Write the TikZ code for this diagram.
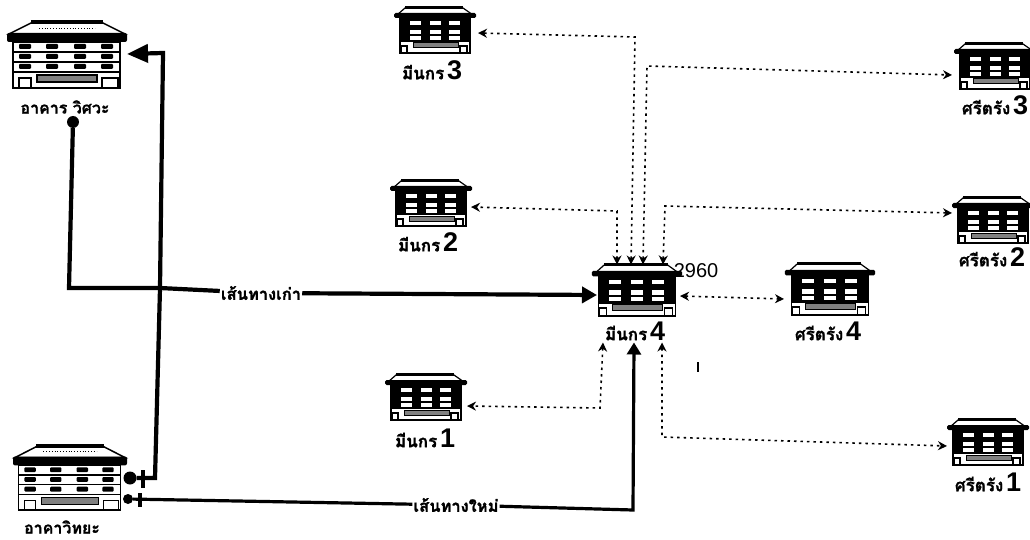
\documentclass[tikz,border=0pt]{standalone}
\usepackage{fontspec}
\setmainfont{Liberation Sans}
\newfontfamily\thaifont[Script=Thai,BoldFeatures={FakeBold=1.2}]{Loma}
\usetikzlibrary{arrows.meta}

\newcommand{\placename}[2]{{\thaifont\bfseries\fontsize{17}{17}\selectfont #1}~{\bfseries\fontsize{27}{27}\selectfont #2}}

\tikzset{
  housebox/.style={inner sep=0pt,outer sep=0pt,minimum width=82pt,minimum height=47pt},
  houselabel/.style={inner sep=0pt,font=\thaifont\bfseries\fontsize{16}{16}\selectfont},
  routelabel/.style={inner sep=1pt,font=\thaifont\bfseries\fontsize{16.5}{16.5}\selectfont},
  oldroute/.style={draw,line width=4.2pt},
  newroute/.style={draw,line width=3.2pt},
  dotroute/.style={draw,line width=1.6pt,dash pattern=on 2.5pt off 4pt,{Stealth[length=9pt,width=9pt]}-{Stealth[length=9pt,width=9pt]}},
  enddot/.style={circle,fill=black,inner sep=0pt},
  endbar/.style={fill=black,inner sep=0pt,minimum width=3.5pt},
  pics/bighouse/.style={code={
    \draw[fill=white,line width=1.3pt] (-54,-12) rectangle (53,34);
    \draw[fill=white,line width=1.5pt] (-36,-31) -- (36,-31) -- (58,-20) -- (-58,-20) -- cycle;
    \draw[line width=.8pt,dotted] (-28,-26) -- (28,-26);
    \fill (-36,-34) rectangle (36,-30);
    \fill[rounded corners=2pt] (-60,-21) rectangle (60,-12);
    \foreach \r in {-7,3,13}
      \foreach \c in {-42,-15,13,40}
        \fill[rounded corners=1pt] (\c-6,\r-3) rectangle (\c+6,\r+2);
    \foreach \r in {-2,8,18}
      \draw[line width=1.2pt] (-54,\r) -- (53,\r);
    \draw[fill=gray,line width=1.2pt] (-30,21) rectangle (30,28);
    \draw[line width=1.3pt] (-48,24) rectangle (-36,34);
    \draw[line width=1.3pt] (35,24) rectangle (51,34);
  }},
  pics/smallhouse/.style={code={
    \draw[fill=white,line width=1.2pt] (-35,-13) rectangle (35,23);
    \draw[fill=white,line width=1.2pt] (-30,-22) -- (28,-22) -- (38,-15) -- (-38,-15) -- cycle;
    \fill (-30,-24) rectangle (28,-21);
    \fill[rounded corners=1.5pt] (-41,-17) rectangle (41,-12);
    \fill (-35,-12) rectangle (35,12);
    \foreach \c in {-20,0,19}
      \foreach \r in {-8,1,7}
        \fill[white] (\c-5.5,\r-1) rectangle (\c+5.5,\r+3);
    \draw[fill=gray,line width=1pt] (-22,13) rectangle (23,18);
    \draw[line width=1.2pt] (-34,16) rectangle (-28,23);
    \draw[line width=1.2pt] (25,16) rectangle (32,23);
  }},
}

\begin{document}
\begin{tikzpicture}[x=1pt,y=-1pt]
  \useasboundingbox (0,0) rectangle (1030,540);

  % buildings
  \begin{scope}[every node/.style={housebox}]
    \node (mn1) at (426,397) {};
    \node (mn2) at (431,203) {};
    \node (mn3) at (435,30) {};
    \node[minimum width=90pt,minimum height=53pt] (mn4) at (637,290) {};
    \node[minimum width=90pt,minimum height=53pt] (st4) at (830,289) {};
    \node (st1) at (988,442) {};
    \node (st2) at (993,220) {};
    \node (st3) at (995,66) {};
    \node[minimum width=120pt,minimum height=68pt] (wit) at (67,54) {};
    \node[minimum width=114pt,minimum height=66pt] (vit) at (70,477) {};
  \end{scope}

  \foreach \h in {mn1,mn2,mn3,st1,st2,st3}
    \pic at (\h) {smallhouse};
  \pic[xscale=1.1,yscale=1.13] at (mn4) {smallhouse};
  \pic[xscale=1.1,yscale=1.13] at (st4) {smallhouse};
  \pic at (wit) {bighouse};
  \pic[xscale=.95,yscale=.97] at (vit) {bighouse};

  % names under the buildings
  \begin{scope}[every node/.style={inner sep=0pt}]
    \node (mn1name) at (425,438) {\placename{มีนกร}{1}};
    \node (mn2name) at (428,242) {\placename{มีนกร}{2}};
    \node (mn3name) at (432,70) {\placename{มีนกร}{3}};
    \node (mn4name) at (635,331) {\placename{มีนกร}{4}};
    \node (st1name) at (988,482) {\placename{ศรีตรัง}{1}};
    \node (st2name) at (992,257) {\placename{ศรีตรัง}{2}};
    \node (st3name) at (995,105) {\placename{ศรีตรัง}{3}};
    \node (st4name) at (828,331) {\placename{ศรีตรัง}{4}};
  \end{scope}
  \node[houselabel] (witname) at (65,107) {อาคาร วิศวะ};
  \node[houselabel] (vitname) at (62,527) {อาคาวิทยะ};
  \node[inner sep=0pt,font=\fontsize{20}{20}\selectfont] (count) at (696,271) {2960};
  \node[fill=black,inner sep=0pt,minimum width=1.6pt,minimum height=10pt] (cursor) at (698,367) {};

  % route ends
  \node[enddot,minimum size=12pt] (witdot) at (73,122) {};
  \node[enddot,minimum size=13pt] (vitdot) at (130,478) {};
  \node[enddot,minimum size=10pt] (vitdotb) at (128,499) {};
  \node[endbar,minimum height=18pt] (vitbar) at (143,479) {};
  \node[endbar,minimum height=14pt] (vitbarb) at (140,500) {};
  \node[routelabel] (oldname) at (261,293) {เส้นทางเก่า};
  \node[routelabel] (newname) at (456,505) {เส้นทางใหม่};

  \coordinate (oldbend) at (69,288);
  \coordinate (oldcross) at (160,288);
  \coordinate (climbfoot) at (155,478);
  \coordinate (climbtop) at (163,53);
  \coordinate (newbend) at (633,510);

  % solid routes
  \path[oldroute,-{Triangle[length=15pt,width=16pt]}] (witdot) -- (oldbend) -- (oldcross) -- (oldname) -- ([xshift=5pt,yshift=-5pt]mn4.west);
  \path[oldroute,-{Triangle[length=21pt,width=18pt]}] (vitdot) -- (climbfoot) -- (oldcross) -- (climbtop) -- (wit.east);
  \path[newroute,-{Triangle[length=12pt,width=14pt]}] (vitdotb) -- (newname) -- (newbend) -- ([xshift=-3pt,yshift=-26pt]mn4.south);

  % dotted routes
  \coordinate (mn1bend) at (600,408);
  \coordinate (mn2bend) at (617,211);
  \coordinate (mn3bend) at (635,37);
  \coordinate (st1bend) at (662,437);
  \coordinate (st2bend) at (665,206);
  \coordinate (st3bend) at (647,66);

  \path[dotroute] ([xshift=-34pt,yshift=-26pt]mn4.south) -- (mn1bend) -- ([yshift=-9pt]mn1.east);
  \path[dotroute] ([xshift=-20pt,yshift=-1pt]mn4.north) -- (mn2bend) -- ([xshift=-1pt,yshift=-4pt]mn2.east);
  \path[dotroute] ([xshift=-6pt,yshift=-1pt]mn4.north) -- (mn3bend) -- ([xshift=2pt,yshift=-3pt]mn3.east);
  \path[dotroute] ([xshift=6pt,yshift=-1pt]mn4.north) -- (st3bend) -- ([xshift=-2pt,yshift=-9pt]st3.west);
  \path[dotroute] ([xshift=26pt,yshift=-1pt]mn4.north) -- (st2bend) -- ([yshift=7pt]st2.west);
  \path[dotroute] ([xshift=25pt,yshift=-26pt]mn4.south) -- (st1bend) -- ([yshift=-4pt]st1.west);
  \path[dotroute] ([xshift=-2pt,yshift=-6pt]mn4.east) -- ([xshift=-1pt,yshift=-10pt]st4.west);
\end{tikzpicture}
\end{document}
